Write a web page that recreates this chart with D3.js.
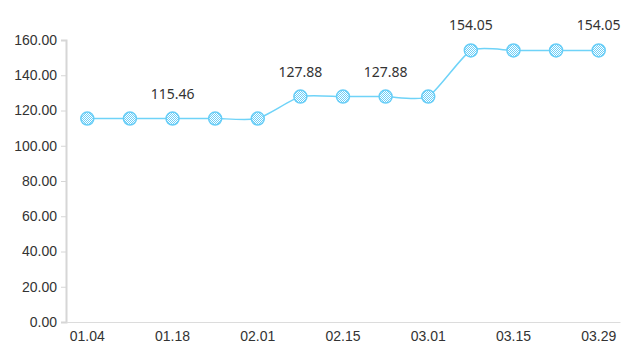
<!DOCTYPE html>
<html><head><meta charset="utf-8">
<script src="https://cdn.jsdelivr.net/npm/d3@7"></script>
<style>body{margin:0;background:#fff}svg{display:block;font-family:"Noto Sans","Open Sans",sans-serif}</style>
</head><body><svg id="c" width="638" height="358"></svg>
<script>
const categories = ["01.04","01.11","01.18","01.25","02.01","02.08","02.15","02.22","03.01","03.08","03.15","03.22","03.29"];
const values = [115.46,115.46,115.46,115.46,115.46,127.88,127.88,127.88,127.88,154.05,154.05,154.05,154.05];
const labelIdx = [2,5,7,9,12];
const xTickLabels = ["01.04","01.18","02.01","02.15","03.01","03.15","03.29"];
const yTicks = [0,20,40,60,80,100,120,140,160];

const svg = d3.select("#c");
const m = {l:66, r:18, t:40, b:36};
const W = 638, H = 358;
const x = d3.scaleBand().domain(categories).range([m.l, W - m.r]);
const y = d3.scaleLinear().domain([0,160]).range([H - m.b, m.t]);
const cx = d => x(d) + x.bandwidth()/2;

const defs = svg.append("defs");
const p = defs.append("pattern").attr("id","chk").attr("patternUnits","userSpaceOnUse").attr("width",2).attr("height",2);
p.append("rect").attr("width",2).attr("height",2).attr("fill","#ffffff");
p.append("rect").attr("width",1).attr("height",1).attr("fill","#6fcff7");
p.append("rect").attr("x",1).attr("y",1).attr("width",1).attr("height",1).attr("fill","#6fcff7");

// y axis
const ya = svg.append("g").attr("transform",`translate(${m.l},0)`)
  .call(d3.axisLeft(y).tickValues(yTicks).tickSize(5).tickPadding(4).tickFormat(d3.format(".2f")));
ya.select(".domain").attr("stroke","#d6d6d6").attr("stroke-width",2);
ya.selectAll(".tick line").attr("stroke","#d6d6d6");
ya.selectAll("text").attr("fill","#333").style("font-size","14px");

// x axis
const xa = svg.append("g").attr("transform",`translate(0,${H - m.b})`)
  .call(d3.axisBottom(x).tickValues(xTickLabels).tickSize(0).tickPadding(9));
xa.select(".domain").attr("stroke","#dcdcdc").attr("stroke-width",1);
xa.selectAll("text").attr("fill","#333").style("font-size","14px");

// line
const line = d3.line().x((d,i)=>cx(categories[i])).y(d=>y(d)).curve(d3.curveCardinal.tension(0.4));
svg.append("path").datum(values).attr("d",line).attr("fill","none").attr("stroke","#6fd3f8").attr("stroke-width",1.5);

svg.selectAll("circle.pt").data(values).join("circle").attr("class","pt")
  .attr("cx",(d,i)=>cx(categories[i])).attr("cy",d=>y(d)).attr("r",6.5)
  .attr("fill","url(#chk)").attr("stroke","#66cdf7").attr("stroke-width",1.5);

svg.selectAll("text.lbl").data(labelIdx).join("text").attr("class","lbl")
  .attr("x",i=>cx(categories[i])).attr("y",i=>y(values[i]) - 20)
  .attr("text-anchor","middle").attr("fill","#333").style("font-size","14px")
  .text(i=>values[i].toFixed(2));
</script></body></html>
